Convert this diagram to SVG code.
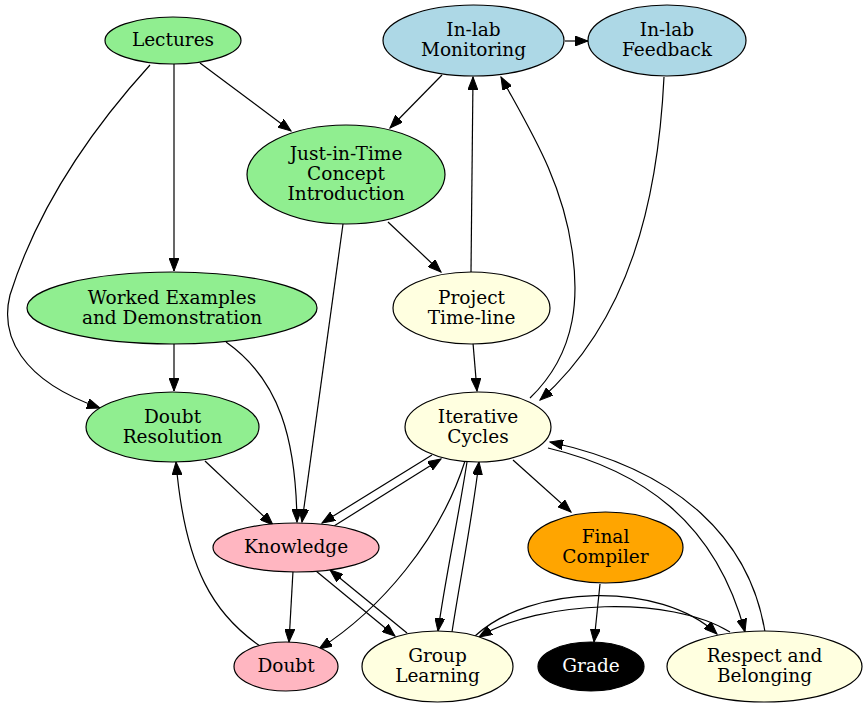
<svg xmlns="http://www.w3.org/2000/svg" width="868" height="709" viewBox="0 0 868 709">
<style>
.n ellipse{stroke:#000;stroke-width:1.2}
.n text{font-family:"DejaVu Serif",serif;font-size:18.5px;text-anchor:middle;dominant-baseline:central;fill:#000}
.g{fill:#90EE90}.b{fill:#ADD8E6}.y{fill:#FFFFE0}.p{fill:#FFB6C1}.o{fill:#FFA500}.k{fill:#000}
#edges path{fill:none;stroke:#000;stroke-width:1.2;marker-end:url(#ah)}
</style>
<defs>
<marker id="ah" markerUnits="userSpaceOnUse" markerWidth="14" markerHeight="10" refX="13" refY="5" orient="auto">
<path d="M0,0 L13,5 L0,10 z" fill="#000" stroke="#000" stroke-width="1"/>
</marker>
</defs>
<rect width="868" height="709" fill="#fff"/>
<g id="edges">
<path d="M200,63 L291,131"/>
<path d="M174,64 L174,271"/>
<path d="M150,65 C100,120 40,200 10,295 C0,335 20,380 100,408"/>
<path d="M442,75 L390,128"/>
<path d="M565,41 L588,41"/>
<path d="M664,77 C658,200 630,320 540,400"/>
<path d="M388,222 L441,272"/>
<path d="M343,224 L302,522"/>
<path d="M471,272 L473,77"/>
<path d="M473,343 L477,391"/>
<path d="M530,398 C580,350 578,290 572,250 C562,180 530,130 501,77"/>
<path d="M174,344 L174,391"/>
<path d="M226,342 C280,380 296,440 297,522"/>
<path d="M205,461 L273,525"/>
<path d="M432,455 L322,523"/>
<path d="M334,526 L441,459"/>
<path d="M465,461 C440,540 380,610 319,649"/>
<path d="M467,462 C458,520 445,580 438,631"/>
<path d="M452,632 C460,580 472,520 479,462"/>
<path d="M513,460 L571,512"/>
<path d="M548,448 C640,470 715,520 745,632"/>
<path d="M765,632 C750,540 680,470 550,442"/>
<path d="M293,571 L289,642"/>
<path d="M316,571 L395,636"/>
<path d="M407,633 L330,570"/>
<path d="M260,646 C215,615 185,570 176,462"/>
<path d="M600,584 L594,642"/>
<path d="M475,636 C530,585 660,580 717,634"/>
<path d="M730,632 C670,595 540,600 479,637"/>
</g>
<g id="lectures" class="n"><ellipse class="g" cx="173" cy="40.5" rx="68" ry="23.5"/><text x="173" y="39">Lectures</text></g>
<g id="inlab_monitoring" class="n"><ellipse class="b" cx="473.5" cy="40.5" rx="90.5" ry="35.5"/><text x="473.5" y="29">In-lab</text><text x="473.5" y="49">Monitoring</text></g>
<g id="inlab_feedback" class="n"><ellipse class="b" cx="667" cy="40.5" rx="79" ry="35.5"/><text x="667" y="29">In-lab</text><text x="667" y="49">Feedback</text></g>
<g id="jit" class="n"><ellipse class="g" cx="346" cy="174.5" rx="99" ry="49.5"/><text x="346" y="153">Just-in-Time</text><text x="346" y="173">Concept</text><text x="346" y="193">Introduction</text></g>
<g id="worked" class="n"><ellipse class="g" cx="172" cy="308" rx="145" ry="36"/><text x="172" y="297">Worked Examples</text><text x="172" y="317">and Demonstration</text></g>
<g id="project" class="n"><ellipse class="y" cx="471.5" cy="308" rx="78.5" ry="36"/><text x="471.5" y="297">Project</text><text x="471.5" y="317">Time-line</text></g>
<g id="doubt_resolution" class="n"><ellipse class="g" cx="172.5" cy="427" rx="86.5" ry="35"/><text x="172.5" y="416">Doubt</text><text x="172.5" y="436">Resolution</text></g>
<g id="iterative" class="n"><ellipse class="y" cx="478" cy="427" rx="73" ry="35"/><text x="478" y="416">Iterative</text><text x="478" y="436">Cycles</text></g>
<g id="knowledge" class="n"><ellipse class="p" cx="296" cy="547.5" rx="83" ry="24.5"/><text x="296" y="546">Knowledge</text></g>
<g id="final" class="n"><ellipse class="o" cx="605.5" cy="547.5" rx="77.5" ry="35.5"/><text x="605.5" y="536">Final</text><text x="605.5" y="556">Compiler</text></g>
<g id="doubt" class="n"><ellipse class="p" cx="286" cy="666.5" rx="52" ry="24.5"/><text x="286" y="665">Doubt</text></g>
<g id="group" class="n"><ellipse class="y" cx="437.5" cy="666.5" rx="75.5" ry="35.5"/><text x="437.5" y="655">Group</text><text x="437.5" y="675">Learning</text></g>
<g id="grade" class="n"><ellipse class="k" cx="591" cy="666.5" rx="53" ry="24.5"/><text x="591" y="665" style="fill:#fff">Grade</text></g>
<g id="respect" class="n"><ellipse class="y" cx="764.5" cy="666.5" rx="97.5" ry="35.5"/><text x="764.5" y="655">Respect and</text><text x="764.5" y="675">Belonging</text></g>
</svg>
